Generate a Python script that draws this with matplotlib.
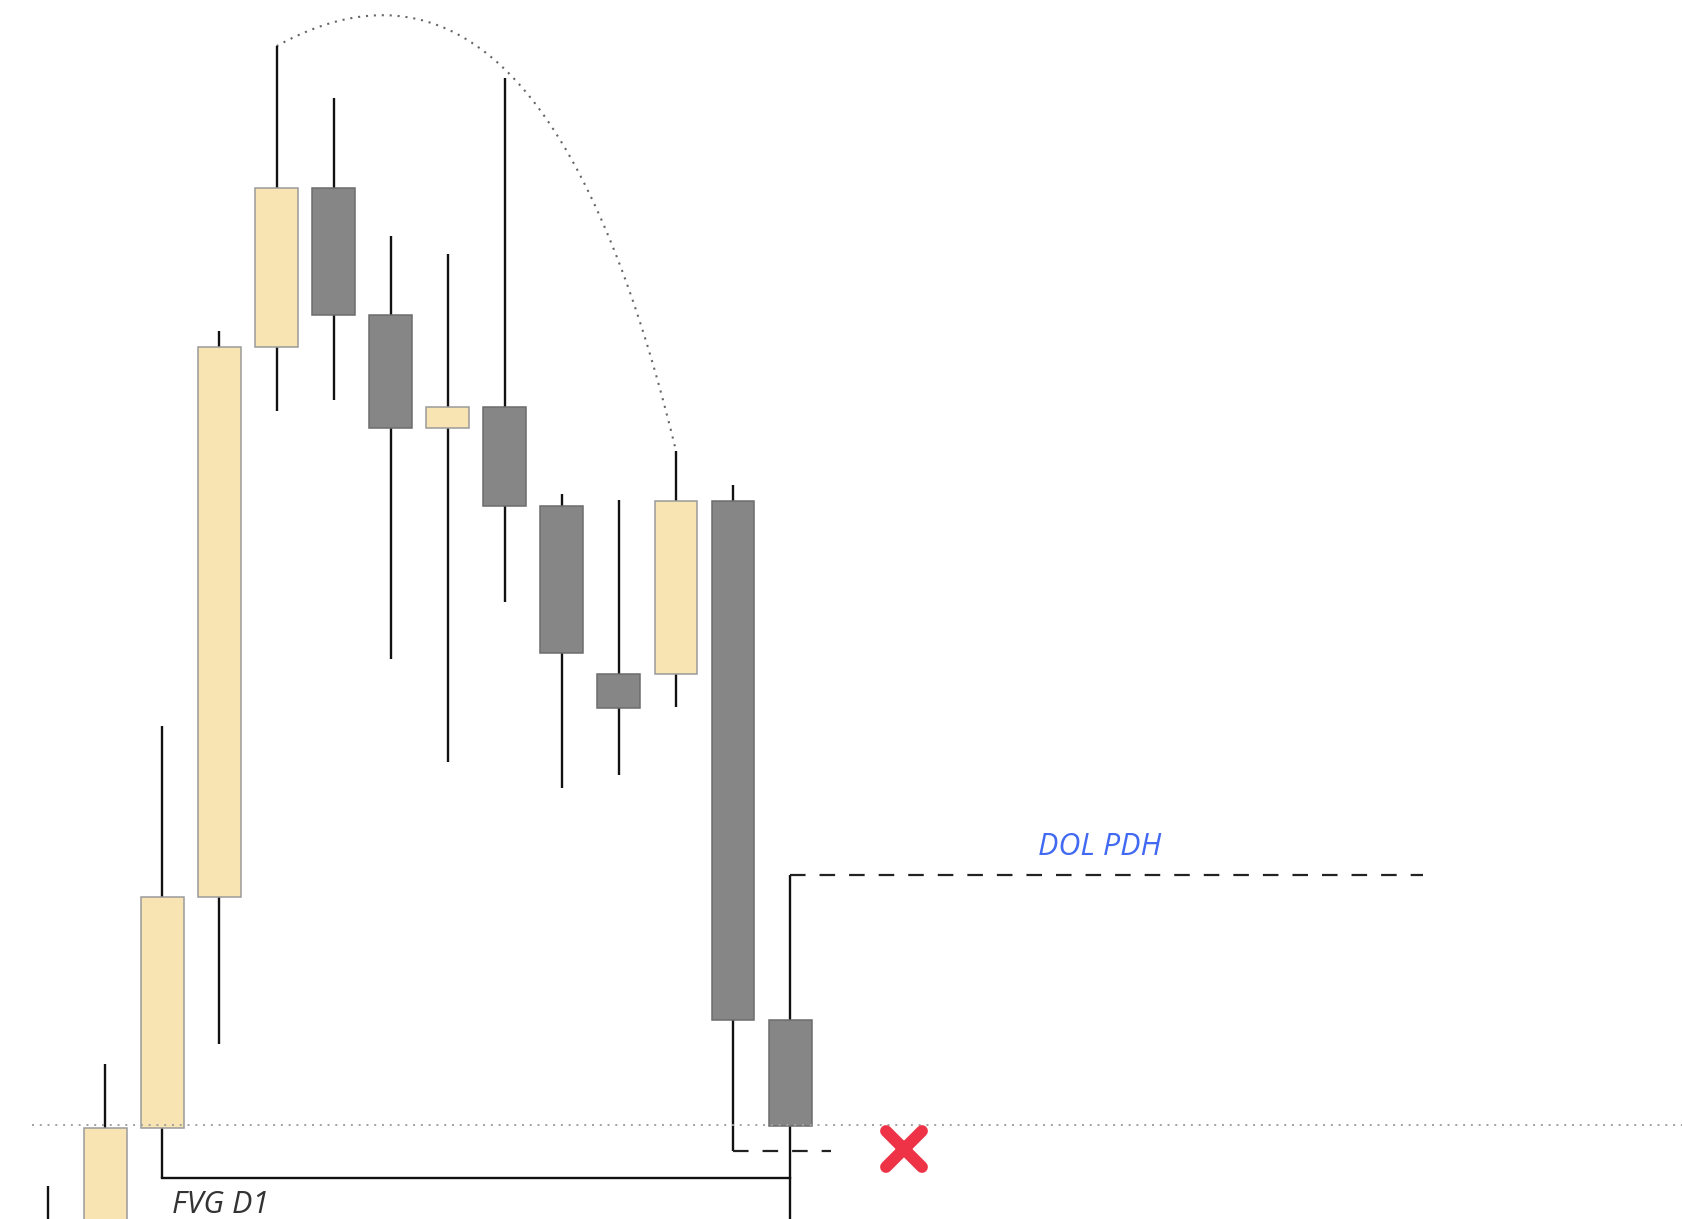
"""Candlestick sketch: FVG D1 retest, sweep below the low, DOL at PDH."""

import matplotlib
matplotlib.use("Agg")
import matplotlib.pyplot as plt
import numpy as np
from matplotlib.markers import MarkerStyle

# OHLC (price units arbitrary, 1 unit ~ 10 px in the source)
bars = np.arange(14)
opens = [-4.0, -3.0, 8.5, 30.0, 81.3, 96.1, 84.2, 73.7, 75.7, 66.4, 50.8, 50.8, 66.9, 18.5]
highs = [3.1, 14.4, 45.9, 82.8, 109.3, 104.5, 91.6, 89.9, 106.3, 67.6, 67.0, 71.6, 68.4, 32.1]
lows = [-6.0, -5.0, 3.85, 16.3, 75.3, 76.3, 52.2, 42.6, 57.5, 40.2, 41.4, 47.7, 6.3, -4.0]
closes = [-1.0, 8.5, 30.0, 81.3, 96.1, 84.2, 73.7, 75.7, 66.4, 52.7, 47.6, 66.9, 18.5, 8.7]

# drawings on top of the candles
eq_level = 8.8              # dotted horizontal
eq_start = -0.29
dol_end = 23.84             # PDH ray end (bar units)
sweep_end = 13.72           # short dashed line off the sweep low
x_mark = (15.0, 6.5)        # red cross
arc_ctrl = (8.66, 123.0)    # control point of the curve drawing

BULL = "#f8e4b3"
BEAR = "#868686"

fig = plt.figure(figsize=(16.82, 12.19), dpi=100)
ax = fig.add_axes([0, 0, 1, 1])
ax.set_xlim(-0.846, 28.63)
ax.set_ylim(0, 113.6)
ax.axis("off")

o = np.array(opens); c = np.array(closes)
up = c >= o
ax.vlines(bars, lows, highs, color="#111111", lw=1.7, zorder=2)
ax.bar(bars[up], (c - o)[up], bottom=o[up], width=0.752, color=BULL,
       edgecolor="#9a9a9a", linewidth=1.1, zorder=3)
ax.bar(bars[~up], (c - o)[~up], bottom=o[~up], width=0.752, color=BEAR,
       edgecolor="#6c6c6c", linewidth=1.1, zorder=3)

# dotted level across the chart (drawn over the bodies)
ax.plot([eq_start, 28.63], [eq_level, eq_level], color="#a0a0a0", lw=1.4,
        dashes=(1, 3.0), zorder=4)

# FVG D1 base line from candle 2 low to the last candle
ax.plot([bars[2], bars[13]], [lows[2], lows[2]], color="#111111", lw=1.7, zorder=2)
ax.text(2.17, 0.55, "FVG D1", family="Open Sans", style="italic", fontsize=22,
        color="#333333", ha="left", va="baseline")

# DOL PDH ray
ax.plot([bars[13], dol_end + 0.25], [highs[13], highs[13]], color="#222222", lw=1.6,
        dashes=(7.0, 6.3), zorder=2)
ax.text((bars[13] + dol_end) / 2, 33.9, "DOL PDH", family="Open Sans",
        style="italic", fontsize=22, color="#4169f2", ha="center", va="baseline")

# sweep of candle 12 low
ax.plot([bars[12], sweep_end], [lows[12], lows[12]], color="#222222", lw=1.6,
        dashes=(7.0, 6.3), zorder=2)

# red cross
ax.plot([x_mark[0]], [x_mark[1]], color="#ee3347", zorder=5, ls="none",
        marker=MarkerStyle("x", capstyle="round"), markersize=26, mew=8.5)

# curve from candle 4 high to candle 11 high (quadratic bezier)
t = np.linspace(0, 1, 300)
p0 = np.array([bars[4], highs[4]]); p2 = np.array([bars[11], highs[11]])
p1 = np.array(arc_ctrl)
curve = ((1 - t) ** 2)[:, None] * p0 + (2 * (1 - t) * t)[:, None] * p1 + (t ** 2)[:, None] * p2
ax.plot(curve[:, 0], curve[:, 1], color="#666666", lw=1.5, dashes=(1, 2.8), zorder=1)

fig.savefig("out.png", dpi=100, facecolor="white")
